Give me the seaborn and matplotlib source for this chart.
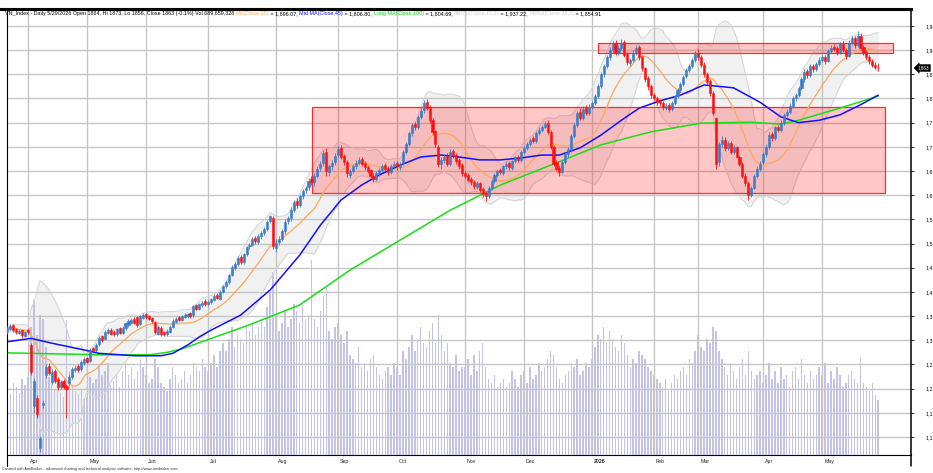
import numpy as np
import pandas as pd
import matplotlib
matplotlib.use('Agg')
import matplotlib.pyplot as plt
import matplotlib.patches as mpatches
import matplotlib.transforms as mtransforms
from matplotlib.lines import Line2D
import seaborn as sns

# ---------------- data ----------------
month_labels = ['Apr', 'May', 'Jun', 'Jul', 'Aug', 'Sep', 'Oct', 'Nov', 'Dec',
                '2026', 'Feb', 'Mar', 'Apr', 'May']
# trading days in each month shown (first entry = end of March 2025)
bars_per_month = [7, 20, 20, 21, 23, 21, 20, 23, 20, 23, 21, 15, 22, 20, 20]

# price levels of the right axis and the part of each label left visible at the picture edge
price_ticks = [1100, 1150, 1200, 1250, 1300, 1350, 1400, 1450, 1500,
               1550, 1600, 1650, 1700, 1750, 1800, 1850, 1900, 1950]
price_tick_labels = ['1,1', '1,1', '1,2', '1,2', '1,3', '1,3', '1,4', '1,4', '1,5',
                     '1,5', '1,6', '1,6', '1,7', '1,7', '1,8', '1,8', '1,9', '1,9']

opens = [
    1318, 1324, 1331, 1323, 1316, 1321, 1309,
    1322, 1290, 1165, 1180, 1078, 1166, 1228, 1246, 1214, 1236, 1220, 1203, 1216, 1206, 1212, 1224, 1238, 1246, 1240, 1252,
    1263, 1258, 1283, 1280, 1292, 1308, 1303, 1316, 1322, 1318, 1312, 1325, 1316, 1326, 1332, 1336, 1345, 1348, 1334, 1346,
    1354, 1350, 1346, 1338, 1314, 1326, 1318, 1312, 1318, 1328, 1338, 1348, 1342, 1348, 1350, 1356, 1352, 1372, 1364, 1372, 1382,
    1374, 1380, 1384, 1394, 1386, 1400, 1413, 1420, 1436, 1450, 1458, 1472, 1462, 1478, 1494, 1498, 1512, 1504, 1515, 1522, 1530, 1546, 1552,
    1490, 1504, 1510, 1526, 1546, 1552, 1570, 1588, 1580, 1598, 1610, 1616, 1634, 1628, 1640, 1656, 1666, 1690, 1648, 1660, 1668,
    1684, 1698, 1682, 1668, 1642, 1650, 1660, 1666, 1674, 1666, 1658, 1652, 1640, 1634, 1645, 1652, 1662, 1656, 1648, 1660,
    1666, 1658, 1666, 1690, 1706, 1728, 1748, 1740, 1762, 1776, 1792, 1782, 1756, 1732, 1700, 1664, 1672, 1682, 1664, 1692, 1684, 1672, 1662,
    1646, 1642, 1634, 1628, 1616, 1626, 1612, 1604, 1598, 1614, 1630, 1642, 1652, 1646, 1660, 1666, 1656, 1670, 1680, 1672,
    1690, 1698, 1706, 1718, 1712, 1728, 1735, 1742, 1750, 1730, 1700, 1668, 1656, 1648, 1668, 1685, 1695, 1722, 1746, 1772, 1760, 1780, 1770,
    1782, 1790, 1806, 1826, 1850, 1868, 1886, 1900, 1914, 1894, 1904, 1916, 1892, 1874, 1880, 1896, 1906, 1886, 1862, 1842, 1826,
    1808, 1800, 1794, 1790, 1780, 1786, 1778, 1790, 1805, 1818, 1830, 1846, 1858, 1868, 1880,
    1894, 1886, 1870, 1850, 1836, 1812, 1760, 1668, 1705, 1715, 1698, 1708, 1690, 1700, 1680, 1665, 1640, 1625, 1600, 1615, 1640, 1655,
    1668, 1685, 1700, 1726, 1718, 1740, 1735, 1750, 1765, 1772, 1785, 1800, 1808, 1822, 1840, 1856, 1848, 1868, 1860, 1872,
    1880, 1886, 1878, 1898, 1906, 1904, 1895, 1912, 1900, 1888, 1915, 1926, 1910, 1930, 1906, 1896, 1886, 1878, 1870, 1864,
]
highs = [
    1330, 1334, 1333, 1326, 1324, 1323, 1320,
    1326, 1294, 1222, 1186, 1102, 1176, 1250, 1252, 1240, 1240, 1224, 1218, 1220, 1210, 1230, 1244, 1248, 1250, 1260, 1266,
    1266, 1284, 1286, 1294, 1308, 1311, 1321, 1326, 1325, 1321, 1326, 1328, 1329, 1338, 1343, 1346, 1348, 1350, 1353, 1356,
    1357, 1353, 1348, 1340, 1331, 1330, 1320, 1323, 1331, 1343, 1348, 1351, 1353, 1356, 1357, 1358, 1373, 1376, 1378, 1381, 1385,
    1384, 1388, 1395, 1397, 1403, 1415, 1424, 1438, 1456, 1462, 1474, 1476, 1481, 1495, 1502, 1514, 1516, 1519, 1526, 1534, 1549, 1560, 1556,
    1510, 1516, 1530, 1550, 1558, 1575, 1590, 1594, 1602, 1612, 1620, 1635, 1640, 1645, 1660, 1670, 1694, 1698, 1665, 1672, 1688,
    1702, 1704, 1686, 1672, 1655, 1664, 1672, 1678, 1678, 1670, 1662, 1655, 1645, 1650, 1656, 1665, 1666, 1660, 1665, 1670,
    1670, 1668, 1694, 1710, 1732, 1750, 1752, 1766, 1780, 1796, 1798, 1786, 1760, 1735, 1704, 1678, 1686, 1688, 1695, 1696, 1688, 1676, 1666,
    1650, 1646, 1638, 1632, 1630, 1628, 1616, 1608, 1618, 1634, 1646, 1654, 1656, 1663, 1670, 1670, 1673, 1682, 1684, 1694,
    1702, 1710, 1719, 1722, 1732, 1740, 1746, 1754, 1755, 1734, 1704, 1672, 1662, 1672, 1690, 1700, 1726, 1750, 1775, 1780, 1784, 1786, 1788,
    1795, 1810, 1830, 1855, 1872, 1890, 1906, 1918, 1920, 1910, 1922, 1920, 1896, 1884, 1900, 1910, 1910, 1890, 1866, 1846, 1830,
    1812, 1805, 1798, 1794, 1790, 1790, 1794, 1808, 1822, 1834, 1848, 1862, 1872, 1884, 1898,
    1902, 1890, 1875, 1855, 1840, 1815, 1762, 1710, 1722, 1720, 1712, 1712, 1704, 1702, 1684, 1668, 1645, 1630, 1620, 1644, 1660, 1670,
    1690, 1705, 1730, 1730, 1744, 1745, 1755, 1770, 1778, 1790, 1805, 1812, 1826, 1845, 1860, 1860, 1872, 1872, 1876, 1885,
    1890, 1890, 1902, 1910, 1912, 1908, 1916, 1918, 1904, 1920, 1930, 1930, 1940, 1935, 1910, 1900, 1890, 1882, 1876, 1873,
]
lows = [
    1314, 1320, 1318, 1312, 1313, 1305, 1306,
    1312, 1228, 1150, 1140, 1070, 1160, 1222, 1228, 1210, 1212, 1198, 1200, 1200, 1139, 1208, 1220, 1234, 1234, 1236, 1248,
    1252, 1255, 1274, 1276, 1288, 1296, 1300, 1312, 1310, 1308, 1309, 1313, 1313, 1322, 1328, 1333, 1333, 1328, 1331, 1343,
    1344, 1341, 1336, 1314, 1310, 1308, 1309, 1309, 1315, 1325, 1335, 1339, 1340, 1346, 1347, 1346, 1349, 1362, 1362, 1369, 1371,
    1370, 1376, 1381, 1385, 1383, 1397, 1409, 1416, 1432, 1446, 1454, 1458, 1458, 1474, 1488, 1494, 1500, 1500, 1510, 1518, 1526, 1542, 1488,
    1482, 1498, 1505, 1520, 1540, 1546, 1565, 1574, 1575, 1592, 1605, 1610, 1622, 1620, 1636, 1650, 1660, 1640, 1640, 1652, 1662,
    1680, 1675, 1662, 1638, 1636, 1646, 1655, 1662, 1660, 1652, 1645, 1636, 1628, 1630, 1640, 1648, 1650, 1642, 1644, 1655,
    1652, 1652, 1662, 1686, 1702, 1722, 1735, 1736, 1758, 1770, 1776, 1750, 1725, 1700, 1658, 1655, 1666, 1660, 1660, 1676, 1665, 1654, 1640,
    1635, 1628, 1622, 1612, 1612, 1606, 1596, 1588, 1594, 1610, 1626, 1638, 1644, 1642, 1655, 1652, 1652, 1666, 1668, 1668,
    1686, 1694, 1702, 1708, 1708, 1724, 1730, 1738, 1726, 1696, 1660, 1650, 1640, 1645, 1664, 1680, 1690, 1718, 1742, 1755, 1756, 1765, 1766,
    1778, 1786, 1802, 1822, 1845, 1864, 1880, 1895, 1890, 1890, 1900, 1885, 1870, 1868, 1876, 1890, 1880, 1856, 1835, 1818, 1800,
    1794, 1786, 1784, 1776, 1776, 1772, 1775, 1786, 1800, 1814, 1826, 1842, 1854, 1864, 1876,
    1880, 1865, 1845, 1830, 1806, 1765, 1655, 1660, 1700, 1692, 1694, 1685, 1686, 1676, 1660, 1636, 1620, 1590, 1596, 1612, 1636, 1650,
    1664, 1680, 1696, 1712, 1714, 1730, 1730, 1746, 1760, 1768, 1780, 1795, 1804, 1818, 1835, 1842, 1844, 1855, 1856, 1868,
    1875, 1872, 1875, 1895, 1898, 1890, 1892, 1896, 1882, 1885, 1910, 1905, 1906, 1900, 1890, 1880, 1872, 1865, 1860, 1856,
]
closes = [
    1325, 1330, 1322, 1318, 1320, 1310, 1317,
    1318, 1235, 1215, 1148, 1098, 1170, 1245, 1232, 1235, 1215, 1204, 1214, 1204, 1199, 1225, 1240, 1243, 1238, 1256, 1262,
    1256, 1280, 1278, 1290, 1305, 1300, 1318, 1322, 1314, 1312, 1323, 1316, 1326, 1335, 1340, 1342, 1336, 1332, 1350, 1352,
    1348, 1345, 1340, 1318, 1328, 1312, 1314, 1320, 1328, 1340, 1345, 1342, 1350, 1352, 1354, 1350, 1370, 1365, 1375, 1378, 1375,
    1380, 1385, 1392, 1388, 1400, 1412, 1420, 1435, 1452, 1458, 1470, 1462, 1478, 1492, 1498, 1510, 1505, 1515, 1522, 1530, 1545, 1556, 1495,
    1502, 1510, 1525, 1545, 1552, 1570, 1585, 1580, 1598, 1608, 1615, 1630, 1628, 1640, 1655, 1664, 1688, 1650, 1660, 1667, 1682,
    1696, 1680, 1668, 1645, 1650, 1660, 1667, 1672, 1665, 1658, 1650, 1640, 1634, 1645, 1652, 1660, 1655, 1648, 1661, 1665,
    1660, 1665, 1690, 1705, 1728, 1745, 1740, 1762, 1775, 1790, 1780, 1755, 1730, 1705, 1665, 1672, 1680, 1665, 1690, 1682, 1670, 1660, 1645,
    1640, 1632, 1628, 1618, 1625, 1610, 1602, 1598, 1615, 1630, 1642, 1650, 1648, 1660, 1665, 1658, 1670, 1678, 1672, 1690,
    1698, 1705, 1715, 1712, 1728, 1735, 1742, 1748, 1730, 1700, 1665, 1655, 1648, 1668, 1685, 1695, 1722, 1745, 1770, 1760, 1778, 1770, 1782,
    1790, 1805, 1825, 1850, 1868, 1885, 1900, 1912, 1895, 1905, 1915, 1890, 1875, 1880, 1895, 1905, 1885, 1862, 1840, 1825, 1808,
    1800, 1792, 1790, 1782, 1785, 1778, 1790, 1805, 1818, 1830, 1845, 1858, 1868, 1880, 1892,
    1885, 1870, 1850, 1835, 1812, 1770, 1665, 1705, 1715, 1698, 1708, 1690, 1700, 1680, 1665, 1640, 1625, 1600, 1615, 1640, 1655, 1665,
    1685, 1700, 1725, 1718, 1740, 1735, 1750, 1765, 1772, 1785, 1800, 1808, 1822, 1840, 1855, 1848, 1868, 1860, 1872, 1880,
    1885, 1878, 1898, 1905, 1902, 1895, 1912, 1900, 1888, 1915, 1925, 1910, 1930, 1905, 1895, 1885, 1878, 1870, 1865, 1863,
]
# volume, millions of shares
volumes = [
    820, 760, 900, 850, 780, 950, 880,
    980, 1600, 1950, 1500, 1750, 1700, 1350, 980, 900, 820, 850, 780, 720, 1690, 1050, 880, 800, 760, 820, 700,
    720, 980, 900, 950, 1100, 1000, 1050, 1150, 880, 920, 1000, 850, 1050, 1150, 1000, 1100, 950, 1050, 1200, 1100,
    1000, 900, 950, 1200, 1100, 900, 850, 800, 950, 1100, 1000, 900, 950, 1050, 900, 1000, 1150, 1100, 1050, 1200, 1100,
    1050, 1150, 1250, 1100, 1300, 1400, 1300, 1450, 1600, 1350, 1500, 1450, 1400, 1600, 1550, 1650, 1500, 1600, 1700, 1600, 1850, 2050, 2300,
    1750, 1550, 1650, 1800, 1600, 1700, 1900, 1800, 1650, 1850, 1700, 1750, 2450, 1700, 1600, 1800, 2000, 2100, 1550, 1450, 1600,
    1650, 1500, 1400, 1550, 1250, 1200, 1150, 1350, 1100, 1150, 1050, 1200, 1250, 1100, 1000, 950, 1050, 1100, 1000, 1150,
    1100, 1000, 1300, 1200, 1350, 1500, 1300, 1450, 1600, 1400, 1350, 1550, 1650, 1400, 1750, 1500, 1300, 1400, 1150, 1100, 1250, 1050, 1100,
    1100, 1200, 1000, 1250, 1050, 1300, 1400, 1100, 950, 900, 1000, 850, 900, 950, 850, 900, 1050, 950, 850, 1000,
    1050, 900, 1100, 950, 1000, 1150, 1050, 1100, 1200, 1300, 1250, 1100, 950, 900, 1000, 1050, 1150, 1100, 1200, 1000, 1050, 1150, 1100,
    1200, 1350, 1500, 1450, 1600, 1400, 1550, 1450, 1350, 1300, 1500, 1400, 1250, 1100, 1200, 1150, 1300, 1250, 1200, 1100, 1050,
    1000, 950, 900, 850, 950, 800, 900, 1000, 950, 1050, 1100, 1000, 1200, 1150, 1300,
    1500, 1350, 1300, 1450, 1400, 1600, 1550, 1300, 1200, 1100, 1000, 1150, 1050, 950, 1100, 1200, 1000, 1300, 1050, 950, 1000, 1050,
    900, 1000, 1150, 950, 1050, 900, 1100, 950, 1000, 850, 1050, 1100, 950, 1200, 1000, 900, 1050, 950, 1000, 1100,
    1000, 1150, 900, 1050, 950, 1100, 1000, 850, 900, 1000, 1050, 950, 900, 1220, 900, 850, 800, 900, 750, 690,
]

# Mid MA(45) and Long MA(100), sampled off the chart at these bar numbers
ma45_bar = [0, 8, 15, 26, 31, 43, 52, 56, 61, 65, 69, 79, 89, 99, 106, 113, 120, 126, 133, 140,
            147, 153, 160, 167, 174, 181, 187, 194, 201, 208, 214, 221, 228, 236, 246, 255, 262, 268,
            275, 282, 289, 295]
ma45_val = [1297, 1304, 1294, 1280, 1273, 1268, 1268, 1273, 1290, 1307, 1321, 1352, 1404, 1476, 1538,
            1590, 1621, 1642, 1662, 1679, 1683, 1679, 1673, 1673, 1677, 1683, 1683, 1698, 1724, 1755,
            1780, 1795, 1807, 1828, 1822, 1792, 1762, 1750, 1755, 1766, 1787, 1807]
ma100_bar = [0, 31, 48, 54, 59, 65, 82, 99, 116, 133, 150, 167, 184, 201, 218, 235, 252, 262, 268, 282, 295]
ma100_val = [1274, 1270, 1270, 1275, 1282, 1295, 1332, 1373, 1445, 1507, 1569, 1621, 1662, 1704, 1731,
             1749, 1751, 1747, 1755, 1780, 1805]

# the two shaded zones: (first bar, last bar, low, high)
zones = [(103.2, 297.3, 1605, 1782), (200.0, 300.0, 1894, 1915)]

header_parts = [
    ('VN_Index - Daily 5/29/2026 Open 1864, Hi 1873, Lo 1856, Close 1863 (-0.1%) Vol 689,659,328 ', 'black'),
    ('MA(Close,15)', '#ffa850'), (' = 1,896.07, ', 'black'),
    ('Mid MA(Close,45)', '#1010ff'), (' = 1,806.80, ', 'black'),
    ('Long MA(Close,100)', '#10d010'), (' = 1,804.69, ', 'black'),
    ('BBTop(Close,15,2)', '#cfcfcf'), (' = 1,937.22, ', 'black'),
    ('BBBot(Close,15,2)', '#cfcfcf'), (' = 1,854.91', 'black'),
]
last_close_label = '1,863'

assert len(opens) == len(highs) == len(lows) == len(closes) == len(volumes) == sum(bars_per_month)

# ---------------- frame ----------------
df = pd.DataFrame({'open': opens, 'high': highs, 'low': lows, 'close': closes, 'vol': volumes})
df['bar'] = np.arange(len(df))
df['ma15'] = df['close'].rolling(15, min_periods=1).mean()
sd = df['close'].rolling(15, min_periods=1).std(ddof=0).fillna(0)
df['bb_top'] = df['ma15'] + 2 * sd
df['bb_bot'] = df['ma15'] - 2 * sd
month_start = np.cumsum(bars_per_month)[:-1]

sns.set_style('white')
plt.rcParams['font.family'] = ['Liberation Sans', 'DejaVu Sans']

W, H = 933, 473
fig = plt.figure(figsize=(W / 100, H / 100), dpi=100)
x0, x1, ytop, ybot = 7, 911, 9.5, 454.5
ax = fig.add_axes([x0 / W, 1 - ybot / H, (x1 - x0) / W, (ybot - ytop) / H])
ax2 = ax.twinx()
ax.set_zorder(2)
ax2.set_zorder(1)
ax.patch.set_visible(False)

# volume
ax2.bar(df['bar'], df['vol'], width=0.5, color='#c3c3ea', linewidth=0)
ax2.set_ylim(0, 5600)
ax2.set_yticks([])
for s in ax2.spines.values():
    s.set_visible(False)

# bollinger band
ax.fill_between(df['bar'], df['bb_bot'], df['bb_top'], color='#bdbdbd', alpha=0.2, linewidth=0, zorder=1)
ax.plot(df['bar'], df['bb_top'], color='#d6d6d6', lw=0.8, zorder=1.1)
ax.plot(df['bar'], df['bb_bot'], color='#d6d6d6', lw=0.8, zorder=1.1)

# zones
for b0, b1, lo, hi in zones:
    ax.add_patch(mpatches.Rectangle((b0, lo), b1 - b0, hi - lo, facecolor=(1, 0, 0, 0.22),
                                    edgecolor='#ff2a2a', lw=0.9, zorder=1.5))

# moving averages
sns.lineplot(x=df['bar'], y=df['ma15'], ax=ax, color='#ffa85a', lw=0.9, zorder=2)
sns.lineplot(x=ma100_bar, y=ma100_val, ax=ax, color='#14e014', lw=1.1, zorder=2.1)
sns.lineplot(x=ma45_bar, y=ma45_val, ax=ax, color='#1010ff', lw=1.1, zorder=2.2)

# candles
up = df['close'] >= df['open']
col = np.where(up, '#3b7cc6', '#ff1010')
ax.vlines(df['bar'], df['low'], df['high'], colors=col, lw=0.6, zorder=3)
body_lo = np.minimum(df['open'], df['close'])
body_h = (df['close'] - df['open']).abs()
ax.bar(df['bar'], body_h, bottom=body_lo, width=0.7, color=col, edgecolor=col, lw=0.4, zorder=3.1)

# axes / ticks
ax.set_xlim(-0.15, 306.1)
ax.set_ylim(1063.8, 1984.0)
ax.yaxis.tick_right()
ax.set_yticks(price_ticks, price_tick_labels)
ax.set_xticks(month_start, month_labels)
ax.grid(True, color='#c6c6c6', lw=1.0)
ax.set_axisbelow(True)
ax.tick_params(axis='y', direction='out', length=2, width=0.6, pad=8.5, labelsize=3.8, colors='black')
ax.tick_params(axis='x', direction='out', length=3, width=0.6, pad=0.5, labelsize=3.8)
shift = mtransforms.ScaledTranslation(1.5 / 72, 0, fig.dpi_scale_trans)
for lab in ax.get_xticklabels():
    lab.set_horizontalalignment('left')
    lab.set_transform(lab.get_transform() + shift)
    if lab.get_text() == '2026':
        lab.set_fontweight('bold')
ax.set_xlabel('')
ax.set_ylabel('')
for side, lw in [('top', 2.2), ('left', 0.8), ('right', 1.1), ('bottom', 0.8)]:
    ax.spines[side].set_color('black')
    ax.spines[side].set_linewidth(lw)

# frame pieces outside the axes
fig.add_artist(Line2D([0, x0 / W], [1 - ytop / H] * 2, color='black', lw=2.2))
fig.add_artist(Line2D([x0 / W] * 2, [1 - ybot / H, 1 - 466 / H], color='black', lw=0.8))
fig.add_artist(Line2D([x1 / W] * 2, [1 - ybot / H, 1 - 466 / H], color='black', lw=1.1))

# last close tag
ax.text(1.0075, closes[-1], last_close_label, transform=ax.get_yaxis_transform(), color='white',
        fontsize=3.3, va='center', ha='left', zorder=5, clip_on=False,
        bbox=dict(boxstyle='larrow,pad=0.22', fc='black', ec='black', lw=0.3))

# header, one coloured piece after another
t = fig.text(5 / W, 1 - 16.5 / H, header_parts[0][0], color=header_parts[0][1], fontsize=3.9, va='bottom')
for s, c in header_parts[1:]:
    t = ax.annotate(s, xy=(1, 0), xycoords=t, va='bottom', ha='left', color=c, fontsize=3.9,
                    annotation_clip=False)

fig.text(2 / W, 1 - 469 / H, 'Created with AmiBroker - advanced charting and technical analysis software. '
         'http://www.amibroker.com', fontsize=2.8, color='#333333', va='center', ha='left')

fig.savefig('out.png', dpi=100)
